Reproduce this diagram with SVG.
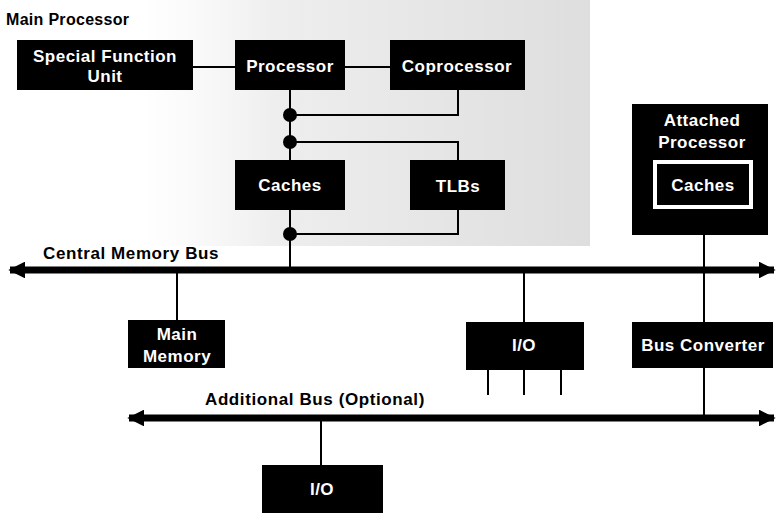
<svg xmlns="http://www.w3.org/2000/svg" width="776" height="519" viewBox="0 0 776 519">
<style>
  .box { fill: #000; }
  .lbl { fill: #fff; font-family: "Liberation Sans", Arial, sans-serif; font-weight: bold; font-size: 17px; text-anchor: middle; letter-spacing: 0.5px; }
  .cap { fill: #000; font-family: "Liberation Sans", Arial, sans-serif; font-weight: bold; font-size: 17px; letter-spacing: 0.6px; }
  .wire { stroke: #000; stroke-width: 2; fill: none; }
  .bus { stroke: #000; stroke-width: 7; fill: none; }
  .dot { fill: #000; }
</style>
<defs>
  <linearGradient id="shade" x1="0" y1="0" x2="1" y2="0">
    <stop offset="0" stop-color="#f4f4f4" stop-opacity="0"/>
    <stop offset="0.3" stop-color="#eeeeee"/>
    <stop offset="1" stop-color="#dedede"/>
  </linearGradient>
  <marker id="arr" viewBox="0 0 10 10" refX="9" refY="5" markerWidth="2.5" markerHeight="2.4" orient="auto-start-reverse" markerUnits="strokeWidth">
    <path d="M0,0 L10,5 L0,10 z" fill="#000"/>
  </marker>
</defs>
<rect x="140" y="0" width="450" height="246" fill="url(#shade)"/>
<text class="cap" x="6" y="25" style="font-size:16px;letter-spacing:0.3px">Main Processor</text>
<g id="connectors">
  <line class="wire" x1="193" y1="67" x2="235" y2="67"/>
  <line class="wire" x1="345" y1="67" x2="390" y2="67"/>
  <line class="wire" x1="290" y1="90" x2="290" y2="270"/>
  <polyline class="wire" points="290,115 458,115 458,90"/>
  <polyline class="wire" points="290,142 458,142 458,160"/>
  <polyline class="wire" points="290,234 458,234 458,210"/>
  <circle class="dot" cx="290" cy="115" r="7"/>
  <circle class="dot" cx="290" cy="142" r="7"/>
  <circle class="dot" cx="290" cy="234" r="7"/>
  <line class="wire" x1="704" y1="234" x2="704" y2="322"/>
  <line class="wire" x1="177" y1="270" x2="177" y2="320"/>
  <line class="wire" x1="524" y1="270" x2="524" y2="322"/>
  <line class="wire" x1="704" y1="368" x2="704" y2="418"/>
  <line class="wire" x1="488" y1="368" x2="488" y2="395"/>
  <line class="wire" x1="524" y1="368" x2="524" y2="395"/>
  <line class="wire" x1="561" y1="368" x2="561" y2="395"/>
  <line class="wire" x1="321" y1="418" x2="321" y2="465"/>
  <line class="bus" x1="10" y1="270" x2="774" y2="270" marker-start="url(#arr)" marker-end="url(#arr)"/>
  <line class="bus" x1="129" y1="418" x2="774" y2="418" marker-start="url(#arr)" marker-end="url(#arr)"/>
</g>
<text class="cap" x="43" y="259">Central Memory Bus</text>
<text class="cap" x="205" y="405">Additional Bus (Optional)</text>
<g id="sfu"><rect class="box" x="17" y="40" width="176" height="50"/><text class="lbl" x="105" y="62">Special Function</text><text class="lbl" x="105" y="82">Unit</text></g>
<g id="processor"><rect class="box" x="235" y="40" width="110" height="50"/><text class="lbl" x="290" y="72">Processor</text></g>
<g id="coprocessor"><rect class="box" x="390" y="40" width="135" height="50"/><text class="lbl" x="457" y="72">Coprocessor</text></g>
<g id="caches"><rect class="box" x="235" y="160" width="110" height="50"/><text class="lbl" x="290" y="191">Caches</text></g>
<g id="tlbs"><rect class="box" x="410" y="160" width="95" height="50"/><text class="lbl" x="458" y="192">TLBs</text></g>
<g id="attached"><rect class="box" x="632" y="104" width="136" height="131"/><text class="lbl" x="702" y="126">Attached</text><text class="lbl" x="702" y="148">Processor</text><rect x="655" y="162" width="96" height="45" fill="#000" stroke="#fff" stroke-width="4"/><text class="lbl" x="703" y="191">Caches</text></g>
<g id="mainmem"><rect class="box" x="128" y="320" width="97" height="48"/><text class="lbl" x="177" y="340">Main</text><text class="lbl" x="177" y="362">Memory</text></g>
<g id="io1"><rect class="box" x="466" y="322" width="118" height="48"/><text class="lbl" x="524" y="351">I/O</text></g>
<g id="busconv"><rect class="box" x="632" y="322" width="141" height="46"/><text class="lbl" x="703" y="351">Bus Converter</text></g>
<g id="io2"><rect class="box" x="262" y="465" width="121" height="48"/><text class="lbl" x="322" y="495">I/O</text></g>
</svg>
